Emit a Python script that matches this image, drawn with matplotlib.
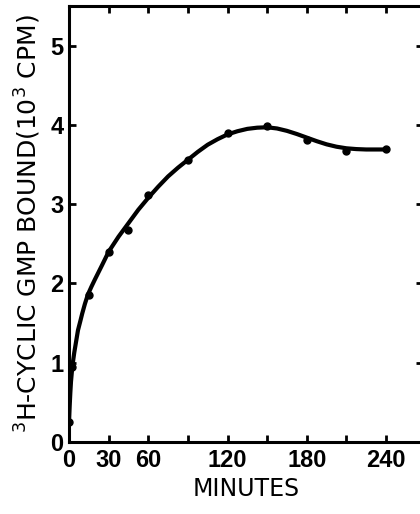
import matplotlib.pyplot as plt
import numpy as np

# measured points
minutes = [0, 2, 15, 30, 45, 60, 90, 120, 150, 180, 210, 240]
bound = [0.25, 0.95, 1.85, 2.4, 2.67, 3.12, 3.56, 3.9, 3.99, 3.81, 3.67, 3.69]

# smooth hand-drawn curve
curve_x = [0, 0.5, 1, 1.5, 2.3, 3, 4, 5, 6.8, 8.5, 10, 12, 14.3, 17, 19.6, 25, 30,
           37.5, 45, 52.5, 60, 67.5, 75, 82.5, 90, 97.5, 105, 112.5, 120, 127.5,
           135, 142.5, 150, 157.5, 165, 172.5, 180, 187.5, 195, 202.5, 210, 217.5,
           225, 232.5, 240]
curve_y = [0.25, 0.45, 0.62, 0.76, 0.91, 1.01, 1.13, 1.23, 1.41, 1.52, 1.62, 1.74, 1.86,
           1.96, 2.05, 2.23, 2.4, 2.59, 2.76, 2.93, 3.08, 3.22, 3.35, 3.46, 3.56, 3.66,
           3.75, 3.82, 3.88, 3.92, 3.95, 3.965, 3.97, 3.955, 3.925, 3.885, 3.84, 3.795,
           3.755, 3.725, 3.705, 3.695, 3.69, 3.69, 3.69]

xticks = [0, 30, 60, 90, 120, 150, 180, 210, 240]
xticklabels = ["0", "30", "60", "", "120", "", "180", "", "240"]
yticks = [0, 1, 2, 3, 4, 5]

plt.rcParams["font.family"] = "DejaVu Sans"
fig = plt.figure(figsize=(4.2, 5.14), dpi=100)
ax = fig.add_axes([69 / 420, 72 / 514, 354 / 420, 436 / 514])

ax.plot(curve_x, curve_y, color="black", lw=3, solid_capstyle="round")
ax.plot(minutes, bound, "o", color="black", ms=5)

ax.set_xlim(0, 268)
ax.set_ylim(0, 5.5)
ax.set_xticks(xticks)
ax.set_xticklabels(xticklabels)
ax.set_yticks(yticks)
ax.tick_params(direction="in", length=5, width=2, top=True, right=True)
ax.tick_params(axis="x", pad=5)
ax.tick_params(axis="y", pad=4)
# narrower digits than DejaVu, closer to the original
for lab in ax.get_xticklabels() + ax.get_yticklabels():
    lab.set_family("Liberation Sans")
    lab.set_fontsize(17)
    lab.set_fontweight("bold")
for s in ax.spines.values():
    s.set_linewidth(2.2)

ax.set_xlabel("MINUTES", fontsize=17, labelpad=4)
ax.set_ylabel("$^3$H-CYCLIC GMP BOUND(10$^3$ CPM)", fontsize=18, labelpad=5)

fig.savefig("out.png", dpi=100)
